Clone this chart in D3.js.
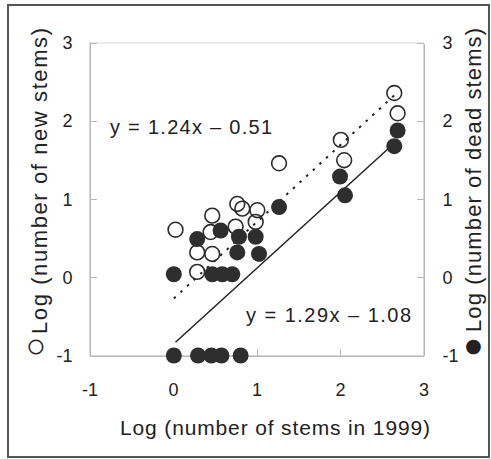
<!DOCTYPE html>
<html>
<head>
  <meta charset="utf-8">
  <title>New and dead stems vs stems in 1999</title>
  <script src="https://cdn.jsdelivr.net/npm/d3@7/dist/d3.min.js"></script>
  <style>
    body { margin: 0; background: #fff; }
    text { font-family: "Liberation Sans", Arial, Helvetica, sans-serif; fill: #222; }
    .axis path, .axis line { stroke: #b8b8b8; shape-rendering: crispEdges; }
    .axis text { font-size: 18px; fill: #222; }
  </style>
</head>
<body>
<script>
  // tick values shared by all axes
  var ticks = [-1, 0, 1, 2, 3];

  // open circles: log (number of new stems) vs log (stems in 1999)
  var newX = [0.03, 0.29, 0.29, 0.45, 0.47, 0.47, 0.75, 0.77, 0.83, 1.01, 0.99, 1.27, 2.01, 2.05, 2.65, 2.69];
  var newY = [0.61, 0.32, 0.07, 0.58, 0.79, 0.30, 0.65, 0.94, 0.88, 0.86, 0.71, 1.46, 1.76, 1.50, 2.36, 2.10];

  // filled circles: log (number of dead stems)
  var deadX = [0.01, 0.29, 0.57, 0.47, 0.59, 0.71, 0.79, 0.99, 0.77, 1.03, 1.27, 2.00, 2.06, 2.69, 2.65,
               0.01, 0.30, 0.46, 0.58, 0.81];
  var deadY = [0.04, 0.49, 0.60, 0.04, 0.04, 0.04, 0.52, 0.52, 0.32, 0.30, 0.90, 1.29, 1.05, 1.88, 1.68,
               -1, -1, -1, -1, -1];

  // fitted lines as drawn (end points)
  var newFit = [[0.01, -0.27], [2.65, 2.33]];
  var deadFit = [[0.03, -0.83], [2.58, 1.65]];

  var W = 491, H = 459;
  var plotL = 89.5, plotR = 423.5, plotT = 43, plotB = 355.5;

  var svg = d3.select("body").append("svg")
      .attr("width", W)
      .attr("height", H);

  // outer border of the figure
  svg.append("rect")
      .attr("x", 8).attr("y", 5)
      .attr("width", 481).attr("height", 452)
      .attr("fill", "none")
      .attr("stroke", "#555")
      .attr("stroke-width", 2);

  var x = d3.scaleLinear().domain([-1, 3]).range([plotL, plotR]);
  var y = d3.scaleLinear().domain([-1, 3]).range([plotB, plotT]);

  // faint frame
  svg.append("rect")
      .attr("x", x(-1)).attr("y", y(3))
      .attr("width", x(3) - x(-1)).attr("height", y(-1) - y(3))
      .attr("fill", "none")
      .attr("stroke", "#d6d6d6")
      .attr("stroke-width", 1);

  var fmt = function(d) { return String(d); };

  svg.append("g").attr("class", "axis")
      .attr("transform", "translate(" + plotL + ",0)")
      .call(d3.axisLeft(y).tickValues(ticks).tickFormat(fmt).tickSizeInner(-7).tickSizeOuter(0).tickPadding(17));

  svg.append("g").attr("class", "axis")
      .attr("transform", "translate(" + plotR + ",0)")
      .call(d3.axisRight(y).tickValues(ticks).tickFormat(fmt).tickSizeInner(-7).tickSizeOuter(0).tickPadding(19));

  svg.append("g").attr("class", "axis")
      .attr("transform", "translate(0," + plotB + ")")
      .call(d3.axisBottom(x).tickValues(ticks).tickFormat(fmt).tickSizeInner(-7).tickSizeOuter(0).tickPadding(28));

  svg.selectAll(".axis .tick line").attr("stroke", "#999");

  var line = d3.line()
      .x(function(d) { return x(d[0]); })
      .y(function(d) { return y(d[1]); });

  svg.append("path")
      .datum(newFit)
      .attr("d", line)
      .attr("fill", "none")
      .attr("stroke", "#222")
      .attr("stroke-width", 2)
      .attr("stroke-dasharray", "2.5,6.5");

  svg.append("path")
      .datum(deadFit)
      .attr("d", line)
      .attr("fill", "none")
      .attr("stroke", "#222")
      .attr("stroke-width", 1.5);

  svg.selectAll("circle.new")
      .data(d3.range(newX.length))
      .enter().append("circle")
      .attr("class", "new")
      .attr("cx", function(i) { return x(newX[i]); })
      .attr("cy", function(i) { return y(newY[i]); })
      .attr("r", 7.4)
      .attr("fill", "none")
      .attr("stroke", "#2b2b2b")
      .attr("stroke-width", 1.6);

  svg.selectAll("circle.dead")
      .data(d3.range(deadX.length))
      .enter().append("circle")
      .attr("class", "dead")
      .attr("cx", function(i) { return x(deadX[i]); })
      .attr("cy", function(i) { return y(deadY[i]); })
      .attr("r", 8)
      .attr("fill", "#2e2e2e");

  // equations
  svg.append("text")
      .attr("x", 110).attr("y", 134)
      .attr("font-size", 20)
      .attr("textLength", 162).attr("lengthAdjust", "spacing")
      .text("y = 1.24x \u2013 0.51");

  svg.append("text")
      .attr("x", 246).attr("y", 322)
      .attr("font-size", 20)
      .attr("textLength", 165).attr("lengthAdjust", "spacing")
      .text("y = 1.29x \u2013 1.08");

  // axis titles
  svg.append("text")
      .attr("x", 275).attr("y", 435)
      .attr("text-anchor", "middle")
      .attr("font-size", 21)
      .attr("textLength", 310).attr("lengthAdjust", "spacing")
      .text("Log (number of stems in 1999)");

  // left title: symbol, then text (reads bottom to top)
  svg.append("text")
      .attr("transform", "translate(46,347) rotate(-90)")
      .attr("text-anchor", "middle")
      .attr("font-size", 34)
      .attr("font-family", "DejaVu Sans")
      .text("\u25CB");

  svg.append("text")
      .attr("transform", "translate(47,181) rotate(-90)")
      .attr("text-anchor", "middle")
      .attr("font-size", 22)
      .attr("textLength", 306).attr("lengthAdjust", "spacing")
      .text("Log (number of new stems)");

  svg.append("text")
      .attr("transform", "translate(483,347) rotate(-90)")
      .attr("text-anchor", "middle")
      .attr("font-size", 34)
      .attr("font-family", "DejaVu Sans")
      .text("\u25CF");

  svg.append("text")
      .attr("transform", "translate(481,180) rotate(-90)")
      .attr("text-anchor", "middle")
      .attr("font-size", 22)
      .attr("textLength", 304).attr("lengthAdjust", "spacing")
      .text("Log (number of dead stems)");
</script>
</body>
</html>
